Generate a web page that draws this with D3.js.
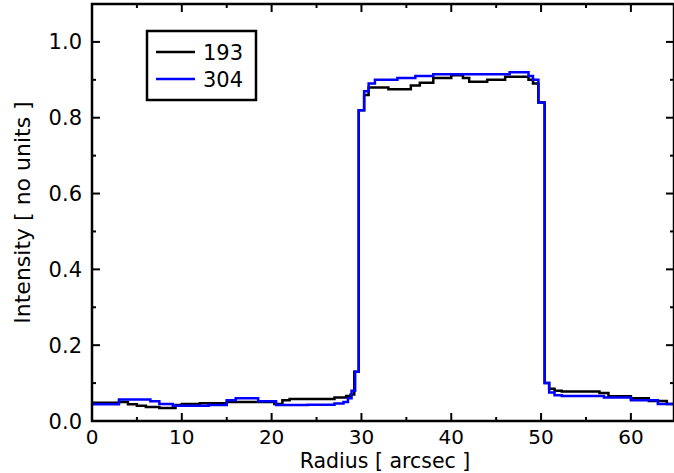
<!DOCTYPE html>
<html>
<head>
<meta charset="utf-8">
<script src="https://cdn.jsdelivr.net/npm/d3@7/dist/d3.min.js"></script>
<style>
  html, body { margin: 0; padding: 0; background: #fff; }
  svg { display: block; }
</style>
</head>
<body>
<div id="chart"></div>
<script>
// step profiles: bin start (arcsec) and intensity; last bin runs to the plot edge
const x193 = [0, 3, 4, 5, 6, 7.5, 9.3, 10, 12, 15, 17, 20.3, 21.2, 22, 25, 27, 28.3, 28.8, 29.2, 29.7, 30.3, 30.8, 31.5, 33, 35.5, 36.5, 38, 40, 41.3, 42, 44, 46, 48.6, 49.1, 49.7, 50.4, 50.9, 51.5, 52.3, 56.5, 57.5, 60, 62, 64, 64.8];
const v193 = [0.048, 0.05, 0.044, 0.040, 0.037, 0.034, 0.042, 0.045, 0.047, 0.050, 0.050, 0.045, 0.055, 0.058, 0.058, 0.062, 0.066, 0.070, 0.130, 0.820, 0.860, 0.880, 0.880, 0.875, 0.885, 0.892, 0.905, 0.912, 0.905, 0.895, 0.900, 0.908, 0.900, 0.890, 0.840, 0.100, 0.085, 0.080, 0.078, 0.074, 0.065, 0.060, 0.053, 0.045];
const x304 = [0, 3, 6.5, 7.5, 9, 13, 15, 16, 18.5, 20.5, 24, 27, 28, 28.5, 28.9, 29.3, 29.7, 30.3, 30.8, 31.5, 34, 36, 38, 40, 44, 46.5, 48.6, 49.1, 49.7, 50.4, 50.9, 51.5, 52.3, 57, 60, 63, 64.8];
const v304 = [0.044, 0.057, 0.052, 0.045, 0.040, 0.042, 0.055, 0.060, 0.052, 0.042, 0.043, 0.046, 0.050, 0.060, 0.080, 0.130, 0.820, 0.870, 0.890, 0.900, 0.905, 0.910, 0.915, 0.915, 0.915, 0.920, 0.910, 0.900, 0.840, 0.100, 0.075, 0.068, 0.066, 0.062, 0.055, 0.045];
const seriesNames = ["193", "304"];
const seriesColors = ["#000000", "#0000ff"];
const xTicks = [0, 10, 20, 30, 40, 50, 60];
const yTicks = [0.0, 0.2, 0.4, 0.6, 0.8, 1.0];

const W = 674, H = 473, ML = 92, MR = 0, MT = 4, MB = 52;
const FONT = "'DejaVu Sans', sans-serif";

const x = d3.scaleLinear().domain([0, 64.8]).range([ML, W - MR]);
const y = d3.scaleLinear().domain([0, 1.1]).range([H - MB, MT]);

const svg = d3.select("#chart").append("svg")
  .attr("width", W).attr("height", H);

// 数据线（先黑后蓝）
const line = d3.line().x(d => x(d[0])).y(d => y(d[1])).curve(d3.curveStepAfter);
const toPts = (xs, vs) => {
  const pts = vs.map((v, i) => [xs[i], v]);
  pts.push([xs[xs.length - 1], vs[vs.length - 1]]);
  return pts;
};
const plotG = svg.append("g");
[[x193, v193], [x304, v304]].forEach(([xs, vs], i) => {
  plotG.append("path")
    .attr("d", line(toPts(xs, vs)))
    .attr("fill", "none")
    .attr("stroke", seriesColors[i])
    .attr("stroke-width", 2.5)
    .attr("stroke-linejoin", "miter");
});

// 边框
svg.append("rect")
  .attr("x", x(0)).attr("y", y(1.1))
  .attr("width", x(64.8) - x(0)).attr("height", y(0) - y(1.1))
  .attr("fill", "none").attr("stroke", "#000").attr("stroke-width", 2.5);

// 刻度（朝内，四边）
const tk = (x1, y1, x2, y2) => svg.append("line")
  .attr("x1", x1).attr("y1", y1).attr("x2", x2).attr("y2", y2)
  .attr("stroke", "#000").attr("stroke-width", 2);
d3.range(0, 65, 5).forEach(v => {
  const len = v % 10 === 0 ? 8 : 4;
  tk(x(v), y(0), x(v), y(0) - len);
  tk(x(v), y(1.1), x(v), y(1.1) + len);
});
d3.range(0, 11).map(i => i / 10).forEach((v, i) => {
  const len = i % 2 === 0 ? 8 : 4;
  tk(x(0), y(v), x(0) + len, y(v));
  tk(x(64.8), y(v), x(64.8) - len, y(v));
});

xTicks.forEach(v => {
  svg.append("text")
    .attr("x", x(v)).attr("y", y(0) + 23)
    .attr("text-anchor", "middle")
    .attr("style", `font:20px ${FONT};fill:#000`)
    .text(v);
});
yTicks.forEach(v => {
  svg.append("text")
    .attr("x", x(0) - 10).attr("y", y(v) + 7.5)
    .attr("text-anchor", "end")
    .attr("style", `font:21px ${FONT};fill:#000`)
    .text(v.toFixed(1));
});

svg.append("text")
  .attr("x", 385).attr("y", 468)
  .attr("text-anchor", "middle")
  .attr("style", `font:20.5px ${FONT};fill:#000`)
  .text("Radius [ arcsec ]");
svg.append("text")
  .attr("transform", `translate(30,${(y(0) + y(1.1)) / 2}) rotate(-90)`)
  .attr("text-anchor", "middle")
  .attr("style", `font:22px ${FONT};fill:#000`)
  .text("Intensity [ no units ]");

// 图例
const lg = svg.append("g");
lg.append("rect")
  .attr("x", 147).attr("y", 31).attr("width", 109).attr("height", 69)
  .attr("fill", "#fff").attr("stroke", "#000").attr("stroke-width", 2.5);
seriesNames.forEach((n, i) => {
  const yy = 52 + i * 27;
  lg.append("line")
    .attr("x1", 156).attr("x2", 195).attr("y1", yy).attr("y2", yy)
    .attr("stroke", seriesColors[i]).attr("stroke-width", 2.5);
  lg.append("text")
    .attr("x", 203).attr("y", yy + 8)
    .attr("style", `font:21px ${FONT};fill:#000`)
    .text(n);
});
</script>
</body>
</html>
